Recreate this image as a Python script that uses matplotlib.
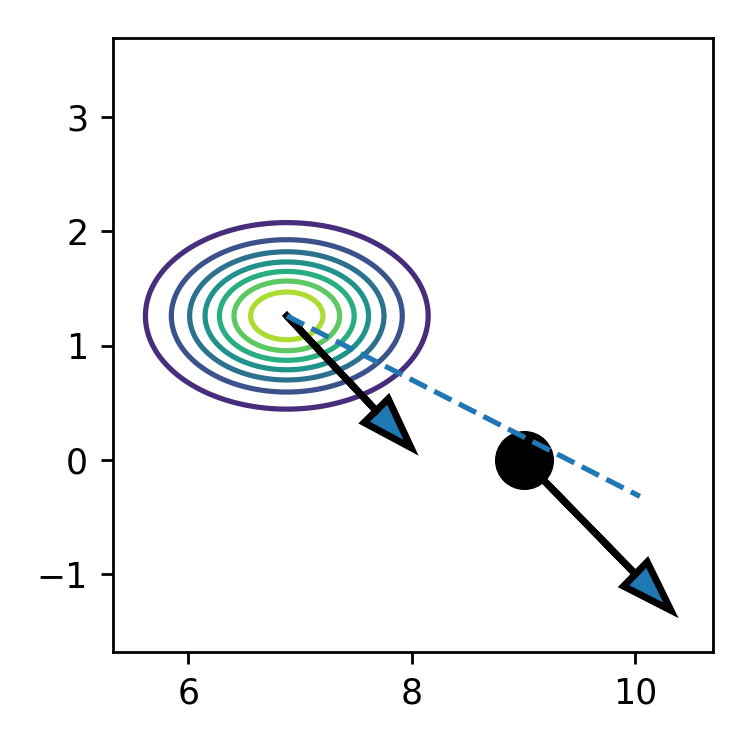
import numpy as np
import matplotlib
matplotlib.use("Agg")
import matplotlib.pyplot as plt

mu = [6.88, 1.26]
sigma = [0.62, 0.40]
levels = [0.08, 0.16, 0.24, 0.32, 0.40, 0.48, 0.56]

# arrows: tail x, tail y, dx, dy
arrows = [
    [6.88, 1.26, 0.80, -0.83],
    [9.0, 0.0, 1.0, -1.0],
]
dot = [9.0, 0.0]
dash_x = [6.88, 10.04]
dash_y = [1.26, -0.32]

fig = plt.figure(figsize=(3, 3), dpi=250)
ax = fig.add_axes([0.15, 0.131, 0.80, 0.818])

xs = np.linspace(4.5, 9.5, 400)
ys = np.linspace(-1.0, 3.5, 400)
X, Y = np.meshgrid(xs, ys)
Z = np.exp(-0.5 * (((X - mu[0]) / sigma[0]) ** 2 + ((Y - mu[1]) / sigma[1]) ** 2))
Z = Z / (2 * np.pi * sigma[0] * sigma[1])

cols = [plt.cm.viridis((i + 1) / 8) for i in range(len(levels))]
ax.contour(X, Y, Z, levels=levels, colors=cols, linewidths=1.5, zorder=2)

for a in arrows:
    ax.arrow(a[0], a[1], a[2], a[3], width=0.001, head_width=0.3, head_length=0.45,
             fc="C0", ec="k", lw=2, zorder=3)

ax.plot(dot[0], dot[1], "ko", ms=16, zorder=4)
ax.plot(dash_x, dash_y, "--", color="C0", lw=1.5, zorder=5)

ax.set_xlim(5.32, 10.69)
ax.set_ylim(-1.68, 3.69)
ax.set_xticks([6, 8, 10])
ax.set_yticks([-1, 0, 1, 2, 3])

fig.savefig("out.png", dpi=250)
